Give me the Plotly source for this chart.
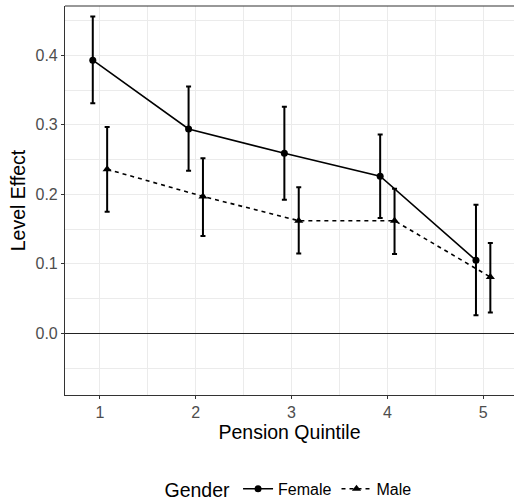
import plotly.graph_objects as go

quintiles = [1, 2, 3, 4, 5]
female_est = [0.393, 0.294, 0.259, 0.226, 0.105]
female_hi = [0.456, 0.355, 0.326, 0.286, 0.185]
female_lo = [0.331, 0.234, 0.192, 0.166, 0.026]
male_est = [0.236, 0.197, 0.162, 0.162, 0.081]
male_hi = [0.297, 0.252, 0.210, 0.208, 0.130]
male_lo = [0.175, 0.140, 0.115, 0.114, 0.030]
dodge = 0.075

FONT = "Liberation Sans, Arial, sans-serif"

fig = go.Figure()

def add_series(name, est, hi, lo, offset, symbol, dash, msize):
    fig.add_trace(go.Scatter(
        x=[q + offset for q in quintiles], y=est, name=name,
        mode="lines+markers",
        line=dict(color="black", width=1.6, dash=dash),
        marker=dict(symbol=symbol, size=msize, color="black"),
        error_y=dict(type="data", symmetric=False,
                     array=[h - e for h, e in zip(hi, est)],
                     arrayminus=[e - l for e, l in zip(est, lo)],
                     color="black", thickness=2, width=2.5),
    ))

add_series("Female", female_est, female_hi, female_lo, -dodge, "circle", "solid", 7)
add_series("Male", male_est, male_hi, male_lo, dodge, "triangle-up", "4px,4px", 8)

fig.add_shape(type="line", xref="paper", yref="paper", x0=0, x1=1, y0=1, y1=1,
              line=dict(color="#333333", width=1.1))

fig.update_layout(
    width=514, height=500,
    margin=dict(l=65, r=0, t=6, b=105, autoexpand=False),
    plot_bgcolor="white", paper_bgcolor="white",
    font=dict(family=FONT, color="black"),
    showlegend=True,
    legend=dict(orientation="h", x=0.5, xanchor="center", y=-0.244, yanchor="middle",
                title=dict(text="Gender", font=dict(size=19.5, color="black"), side="left"),
                font=dict(size=16, color="black"), tracegroupgap=0),
)
fig.update_xaxes(
    automargin=False,
    range=[0.635, 5.322], tickvals=quintiles, ticktext=[str(q) for q in quintiles],
    showgrid=True, gridcolor="#EBEBEB", gridwidth=1.1,
    minor=dict(tickvals=[1.5, 2.5, 3.5, 4.5], showgrid=True, gridcolor="#EBEBEB", gridwidth=0.55),
    showline=True, linecolor="#333333", linewidth=1.1,
    ticks="outside", ticklen=3, tickcolor="#333333", tickwidth=1.1,
    tickfont=dict(size=16, color="#4D4D4D"),
    title=dict(text="Pension Quintile", font=dict(size=19.5, color="black"), standoff=4),
    zeroline=False,
)
fig.update_yaxes(
    automargin=False,
    range=[-0.0888, 0.471], tickvals=[0.0, 0.1, 0.2, 0.3, 0.4],
    ticktext=["0.0", "0.1", "0.2", "0.3", "0.4"],
    showgrid=True, gridcolor="#EBEBEB", gridwidth=1.1,
    minor=dict(tickvals=[-0.05, 0.05, 0.15, 0.25, 0.35, 0.45], showgrid=True, gridcolor="#EBEBEB", gridwidth=0.55),
    showline=True, linecolor="#333333", linewidth=1.1,
    ticks="outside", ticklen=3, tickcolor="#333333", tickwidth=1.1,
    tickfont=dict(size=16, color="#4D4D4D"),
    title=dict(text="Level Effect", font=dict(size=19.5, color="black"), standoff=4),
    zeroline=True, zerolinecolor="#222222", zerolinewidth=1.4,
)

fig.write_html("out.html")
